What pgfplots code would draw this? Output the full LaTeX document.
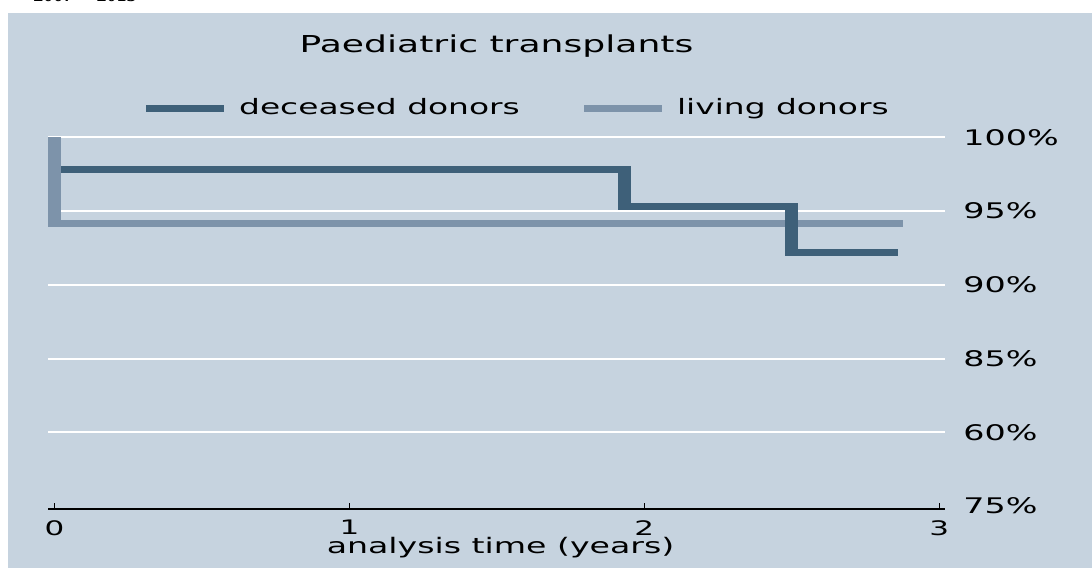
\documentclass[border=0pt]{standalone}
\usepackage{fontspec}
\setmainfont{DejaVu Sans}[FakeStretch=1.55]
\newfontfamily\cutfont{Liberation Serif}
\usepackage{pgfplots}
\pgfplotsset{compat=1.18}
\definecolor{panelbg}{RGB}{198,211,223}
\definecolor{deccol}{RGB}{62,96,121}
\definecolor{livcol}{RGB}{125,147,170}
\begin{document}
\begin{tikzpicture}
\path[use as bounding box] (0,0) rectangle (546pt,285pt);
\fill[white] (0,0) rectangle (546pt,285pt);
\fill[panelbg] (4pt,1pt) rectangle (546pt,278.5pt);
\begin{scope}
\clip (0,0) rectangle (546pt,285pt);
\node[anchor=base east, inner sep=0pt, font=\cutfont\bfseries\fontsize{10}{12}\selectfont] at (68.5pt,284.3pt) {2007 -- 2015};
\end{scope}
\begin{axis}[
 at={(24pt,30.5pt)}, anchor=south west, scale only axis,
 width=448.5pt, height=189.5pt,
 xmin=-0.022, xmax=3.020, ymin=74.8, ymax=100.5,
 axis x line*=bottom, axis y line*=right,
 y axis line style={draw=none},
 x axis line style={black, line width=0.6pt},
 xtick={0,1,2,3}, tick align=inside, major tick length=3pt,
 xtick style={black, line width=0.6pt},
 ytick={80,85,90,95,100},
 yticklabels={60\%,85\%,90\%,95\%,100\%},
 extra y ticks={75}, extra y tick labels={75\%},
 extra y tick style={grid=none},
 ytick style={draw=none},
 ymajorgrids, major grid style={white, line width=1pt},
 /pgf/number format/assume math mode=true,
 yticklabel style={anchor=west, inner sep=0pt, xshift=9pt, font=\fontsize{10.75}{12}\selectfont},
 xticklabel style={anchor=north, inner sep=0pt, yshift=-5.5pt, font=\fontsize{10}{12}\selectfont},
 xlabel={analysis time (years)},
 xlabel style={at={(axis description cs:0.5,0)}, anchor=base, yshift=-22.2pt, xshift=2pt, inner sep=0pt, font=\fontsize{10.7}{12}\selectfont},
 title={Paediatric transplants},
 title style={at={(axis description cs:0.5,1)}, anchor=base, yshift=33pt, inner sep=0pt, font=\fontsize{11.65}{14}\selectfont},
 legend columns=2,
 legend style={at={(0.1053,1.057)}, anchor=west, draw=none, fill=none, inner sep=0pt,
   nodes={inner sep=0pt}, font=\fontsize{10.6}{12}\selectfont,
   /tikz/every odd column/.style={column sep=5.8pt},
   /tikz/every even column/.style={column sep=30.5pt}},
 legend image code/.code={\draw[#1, line width=3.35pt] plot coordinates {(0pt,0pt) (39pt,0pt)};},
]
\addplot[const plot, deccol, line width=3.5pt, line join=round] coordinates {
 (0.022,97.80) (1.932,95.31) (2.5006,92.20) (2.859,92.20)};
\addlegendentry{deceased donors}
\addplot[const plot, livcol, line width=3.5pt, line join=round] coordinates {
 (0,100) (0,94.16) (2.877,94.16)};
\addlegendentry{living donors}
\addplot[forget plot, livcol, line width=6.8pt, shorten >=-1.75pt] coordinates {(0,100) (0,94.16)};
\addplot[forget plot, deccol, line width=6.6pt, shorten <=-1.75pt, shorten >=-1.75pt] coordinates {(1.932,97.80) (1.932,95.31)};
\addplot[forget plot, deccol, line width=6.6pt, shorten <=-1.75pt, shorten >=-1.75pt] coordinates {(2.5006,95.31) (2.5006,92.20)};
\end{axis}
\end{tikzpicture}
\end{document}
